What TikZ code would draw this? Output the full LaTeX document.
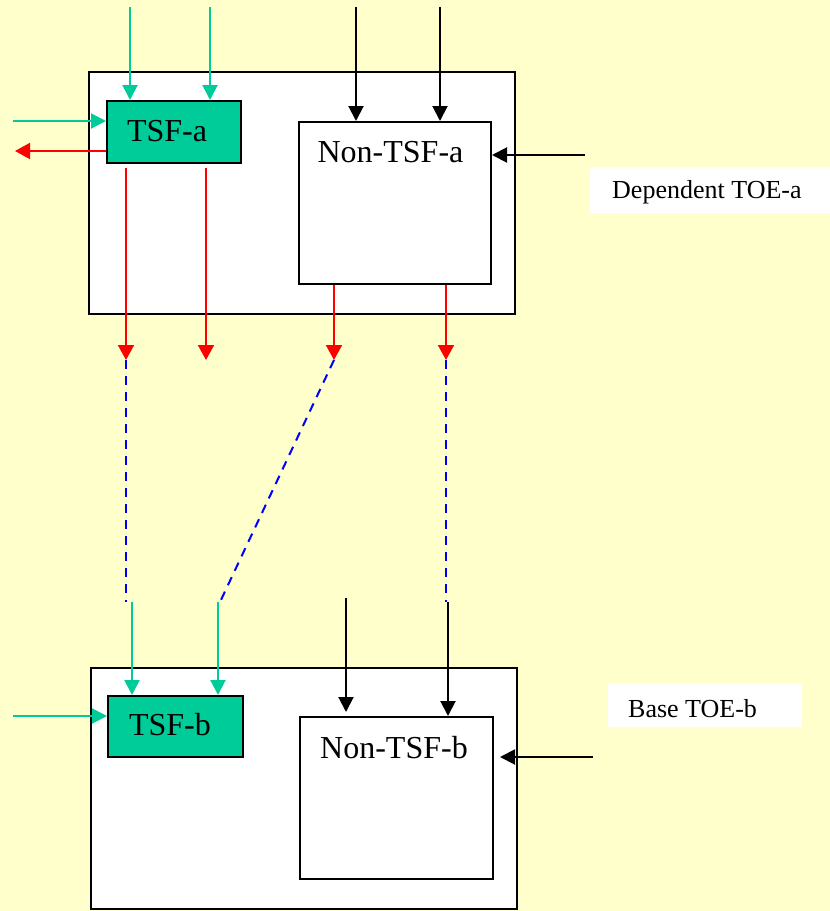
\documentclass[tikz,border=0pt]{standalone}
\usepackage{fontspec}
\setmainfont{Liberation Serif}
\usetikzlibrary{arrows.meta}

\definecolor{bgyellow}{HTML}{FFFFCC}
\definecolor{tsfgreen}{HTML}{00CC99}

\tikzset{
  box/.style={draw,line width=2pt,fill=white,inner sep=0pt,anchor=north west},
  tsfbox/.style={box,fill=tsfgreen},
  bigtext/.style={font=\fontsize{32}{38}\selectfont,inner sep=0pt},
  toetext/.style={font=\fontsize{26}{31}\selectfont,inner sep=0pt,anchor=base west},
  toebox/.style={fill=white,inner sep=0pt,anchor=north west},
  garrow/.style={draw=tsfgreen,line width=2pt,-{Triangle[width=15pt,length=15pt]}},
  rarrow/.style={draw=red,line width=2pt,-{Triangle[width=16pt,length=15pt]}},
  karrow/.style={draw=black,line width=2pt,-{Triangle[width=15pt,length=15pt]}},
  link/.style={draw=blue,line width=2pt,dash pattern=on 9pt off 7pt}
}

\begin{document}
\begin{tikzpicture}[x=1pt,y=-1pt]
  \fill[bgyellow] (0,0) rectangle (830,911);
  \useasboundingbox (0,0) rectangle (830,911);

  % dependent TOE
  \node[box,minimum width=426,minimum height=242] (toea) at (88,71) {};
  \node[tsfbox,minimum width=134,minimum height=62] (tsfa) at (106,100) {};
  \node[bigtext] (tsfa-l) at (167,131) {TSF-a};
  \node[box,minimum width=192,minimum height=162] (ntsfa) at (298,121) {};
  \node[bigtext] (ntsfa-l) at (390.5,152.5) {Non-TSF-a};
  \node[toebox,minimum width=240,minimum height=46] (depbox) at (590,167) {};
  \node[toetext] (dep-l) at (612,198) {Dependent TOE-a};

  % base TOE
  \node[box,minimum width=426,minimum height=241] (toeb) at (90,667) {};
  \node[tsfbox,minimum width=135,minimum height=61] (tsfb) at (107,695) {};
  \node[bigtext] (tsfb-l) at (170,725) {TSF-b};
  \node[box,minimum width=193,minimum height=162] (ntsfb) at (299,716) {};
  \node[bigtext] (ntsfb-l) at (394,747.5) {Non-TSF-b};
  \node[toebox,minimum width=194,minimum height=44] (basebox) at (608,683) {};
  \node[toetext] (base-l) at (628,717) {Base TOE-b};

  % free ends
  \coordinate (ga1) at (130,7);
  \coordinate (ga2) at (210,7);
  \coordinate (gina) at (13,121);
  \coordinate (routa) at (15,151);
  \coordinate (ka1) at (356,7);
  \coordinate (ka2) at (440,7);
  \coordinate (kina) at (585,155);
  \coordinate (ra1) at (126,360);
  \coordinate (ra2) at (206,360);
  \coordinate (ra3) at (334,360);
  \coordinate (ra4) at (446,360);
  \coordinate (db1) at (126,602);
  \coordinate (db2) at (220,602);
  \coordinate (db4) at (446,602);
  \coordinate (gb1) at (132,602);
  \coordinate (gb2) at (218,602);
  \coordinate (kb1) at (346,598);
  \coordinate (kb2) at (448,602);
  \coordinate (ginb) at (13,716);
  \coordinate (kinb) at (593,757);

  % into TSF-a and Non-TSF-a
  \draw[garrow] (ga1) -- (ga1 |- tsfa.north);
  \draw[garrow] (ga2) -- (ga2 |- tsfa.north);
  \draw[garrow] (gina) -- (gina -| tsfa.west);
  \draw[rarrow] (routa -| tsfa.west) -- (routa);
  \draw[karrow] (ka1) -- (ka1 |- ntsfa.north);
  \draw[karrow] (ka2) -- (ka2 |- ntsfa.north);
  \draw[karrow] (kina) -- (kina -| ntsfa.east);

  % out of the dependent TOE
  \draw[rarrow,shorten <=4pt] (tsfa.south -| ra1) -- (ra1);
  \draw[rarrow,shorten <=4pt] (tsfa.south -| ra2) -- (ra2);
  \draw[rarrow] (ntsfa.south -| ra3) -- (ra3);
  \draw[rarrow] (ntsfa.south -| ra4) -- (ra4);

  % links
  \draw[link] (ra1) -- (db1);
  \draw[link] (ra3) -- (db2);
  \draw[link] (ra4) -- (db4);

  % into TSF-b and Non-TSF-b
  \draw[garrow] (gb1) -- (gb1 |- tsfb.north);
  \draw[garrow] (gb2) -- (gb2 |- tsfb.north);
  \draw[garrow] (ginb) -- (ginb -| tsfb.west);
  \draw[karrow,shorten >=4pt] (kb1) -- (kb1 |- ntsfb.north);
  \draw[karrow] (kb2) -- (kb2 |- ntsfb.north);
  \draw[karrow,shorten >=6pt] (kinb) -- (kinb -| ntsfb.east);
\end{tikzpicture}
\end{document}
